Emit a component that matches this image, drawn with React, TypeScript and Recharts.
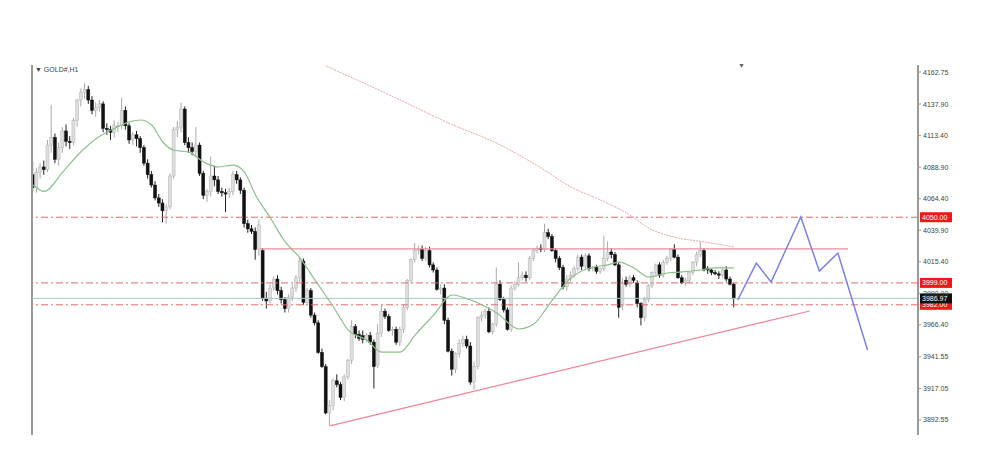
import React from "react";
import { ComposedChart, Bar, Line, XAxis, YAxis, ReferenceLine } from "recharts";

// GOLD#, H1 candles
const opens = [
  4083, 4073, 4085, 4089, 4087, 4106, 4112, 4095, 4104, 4117, 4109, 4108, 4125, 4141, 4147, 4149, 4141, 4133, 4135, 4138,
  4119, 4118, 4116, 4121, 4121, 4133, 4121, 4110, 4114, 4111, 4104, 4092, 4083, 4075, 4065, 4061, 4055, 4058, 4082, 4118,
  4120, 4134, 4108, 4104, 4101, 4106, 4084, 4067, 4070, 4082, 4079, 4070, 4069, 4068, 4070, 4083, 4079, 4071, 4045, 4041,
  4039, 4025, 4024, 3987, 3985, 3995, 4002, 3993, 3986, 3979, 3988, 3995, 4003, 4016, 3984, 3993, 3974, 3968, 3945, 3934,
  3898, 3904, 3923, 3920, 3910, 3926, 3939, 3965, 3959, 3958, 3955, 3958, 3953, 3935, 3960, 3977, 3973, 3962, 3963, 3953,
  3963, 3980, 4001, 4017, 4024, 4025, 4018, 4024, 4013, 4009, 3994, 3995, 3970, 3946, 3932, 3944, 3952, 3955, 3950, 3922,
  3934, 3972, 3974, 3977, 3961, 3967, 3998, 3986, 3978, 3963, 3995, 3998, 4003, 4005, 4003, 4018, 4024, 4026, 4025, 4038,
  4035, 4024, 4018, 4011, 3996, 4002, 4005, 4010, 4019, 4012, 4020, 4010, 4011, 4008, 4010, 4018, 4023, 4021, 4013, 3981,
  4001, 3998, 4003, 3999, 3983, 3972, 3986, 3997, 4007, 4013, 4005, 4015, 4018, 4025, 4019, 4003, 3999, 4001, 4007, 4015,
  4021, 4024, 4010, 4009, 4007, 4006, 4005, 4009, 4002, 3998,
];
const highs = [
  4093, 4088, 4092, 4094, 4110, 4137, 4115, 4108, 4120, 4122, 4113, 4127, 4142, 4150, 4154, 4152, 4144, 4139, 4141, 4140,
  4123, 4121, 4125, 4124, 4143, 4136, 4123, 4116, 4117, 4113, 4106, 4095, 4086, 4078, 4068, 4064, 4060, 4084, 4120, 4125,
  4139, 4136, 4112, 4108, 4120, 4108, 4086, 4072, 4097, 4090, 4082, 4073, 4072, 4073, 4086, 4086, 4081, 4073, 4048, 4044,
  4042, 4048, 4026, 3992, 3998, 4004, 4005, 3996, 3988, 3990, 3998, 4005, 4019, 4018, 3995, 3995, 3976, 3970, 3948, 3936,
  3908, 3925, 3928, 3922, 3928, 3940, 3970, 3967, 3962, 3962, 3960, 3961, 3955, 3967, 3982, 3979, 3975, 3965, 3965, 3965,
  3982, 4002, 4018, 4030, 4028, 4028, 4027, 4027, 4015, 4011, 3998, 3998, 3972, 3948, 3945, 3955, 3958, 3958, 3953, 3938,
  3973, 3977, 3979, 3980, 3968, 4011, 4001, 3988, 3980, 3997, 4000, 4015, 4008, 4008, 4020, 4026, 4028, 4029, 4045, 4041,
  4037, 4026, 4020, 4013, 4005, 4008, 4012, 4021, 4021, 4022, 4022, 4012, 4013, 4011, 4036, 4031, 4026, 4023, 4015, 4003,
  4004, 4005, 4005, 4001, 3984, 3988, 3998, 4008, 4014, 4015, 4017, 4020, 4026, 4029, 4021, 4005, 4003, 4008, 4016, 4023,
  4031, 4026, 4012, 4010, 4009, 4008, 4011, 4012, 4004, 3999,
];
const lows = [
  4070, 4069, 4080, 4083, 4085, 4100, 4092, 4090, 4100, 4105, 4103, 4106, 4120, 4136, 4142, 4138, 4130, 4128, 4132, 4116,
  4114, 4110, 4112, 4116, 4118, 4118, 4107, 4106, 4105, 4100, 4090, 4080, 4073, 4063, 4058, 4046, 4045, 4056, 4080, 4112,
  4116, 4106, 4100, 4098, 4097, 4082, 4064, 4062, 4066, 4074, 4068, 4066, 4054, 4065, 4067, 4076, 4068, 4042, 4038, 4037,
  4017, 4020, 3985, 3979, 3983, 3993, 3990, 3983, 3976, 3976, 3985, 3992, 4000, 3982, 3982, 3972, 3966, 3944, 3933, 3897,
  3888, 3900, 3918, 3908, 3907, 3924, 3936, 3956, 3954, 3952, 3953, 3951, 3917, 3933, 3957, 3971, 3961, 3958, 3951, 3950,
  3960, 3978, 3999, 4015, 4021, 4016, 4016, 4011, 4007, 3993, 3990, 3967, 3945, 3927, 3929, 3941, 3949, 3948, 3920, 3916,
  3932, 3969, 3971, 3960, 3959, 3965, 3985, 3976, 3962, 3961, 3993, 3996, 4001, 4000, 4001, 4016, 4022, 4023, 4023, 4033,
  4023, 4015, 4009, 3994, 3993, 4000, 4003, 4008, 4009, 4010, 4008, 4008, 4006, 4006, 4008, 4016, 4018, 4012, 3972, 3978,
  3996, 3996, 3999, 3980, 3966, 3969, 3984, 3995, 4005, 4003, 4003, 4013, 4016, 4018, 4002, 3998, 3997, 3999, 4005, 4012,
  4019, 4008, 4006, 4005, 4005, 4002, 4003, 4000, 3997, 3980,
];
const closes = [
  4073, 4085, 4089, 4087, 4106, 4112, 4095, 4104, 4117, 4109, 4108, 4125, 4141, 4147, 4149, 4141, 4133, 4135, 4138, 4119,
  4118, 4116, 4121, 4121, 4133, 4121, 4110, 4114, 4111, 4104, 4092, 4083, 4075, 4065, 4061, 4055, 4058, 4082, 4118, 4120,
  4134, 4108, 4104, 4101, 4106, 4084, 4067, 4070, 4082, 4079, 4070, 4069, 4068, 4070, 4083, 4079, 4071, 4045, 4041, 4039,
  4025, 4044, 3987, 3985, 3995, 4002, 3993, 3986, 3979, 3988, 3995, 4003, 4016, 3984, 3993, 3974, 3968, 3945, 3934, 3898,
  3904, 3923, 3920, 3910, 3926, 3939, 3965, 3959, 3956, 3955, 3958, 3953, 3934, 3960, 3977, 3973, 3962, 3963, 3953, 3963,
  3980, 4001, 4017, 4024, 4025, 4018, 4024, 4013, 4009, 3994, 3995, 3970, 3946, 3932, 3944, 3952, 3955, 3950, 3922, 3934,
  3972, 3974, 3977, 3961, 3967, 3998, 3986, 3978, 3963, 3995, 3998, 4003, 4005, 4003, 4018, 4024, 4026, 4025, 4038, 4035,
  4024, 4018, 4011, 3996, 4002, 4005, 4010, 4019, 4012, 4020, 4010, 4011, 4008, 4010, 4018, 4023, 4021, 4013, 3980, 3999,
  3998, 4003, 4001, 3983, 3972, 3986, 3997, 4007, 4013, 4005, 4015, 4018, 4025, 4019, 4003, 3999, 4001, 4007, 4015, 4021,
  4024, 4009, 4009, 4007, 4006, 4005, 4009, 4002, 3998, 3986.97,
];

// moving averages, sampled at candle index
const greenIdx = [0, 3, 8, 13, 17, 22, 26, 29, 32, 35, 38, 42, 46, 50, 54, 57, 60, 64, 68, 72, 76, 81, 85, 90, 94, 99, 103, 108, 113, 118, 125, 131, 135, 140, 145, 150, 155, 158, 162, 166, 171, 175, 180, 184, 189];
const greenVal = [4075, 4070, 4085, 4101, 4111, 4119, 4124, 4125.5, 4121.6, 4108.4, 4102, 4100.6, 4092.9, 4089, 4090.5, 4085, 4067.3, 4049.4, 4030.8, 4018.3, 4001.3, 3980.3, 3962.4, 3954.6, 3945.3, 3945.3, 3958.5, 3974, 3989.6, 3985.7, 3975.7, 3963.2, 3967, 3985.7, 4002.8, 4010.6, 4013, 4015.2, 4010.6, 4003.6, 4006.7, 4007.5, 4009, 4010.6, 4010.6];
const redIdx = [79, 88, 99, 112, 126, 137, 145, 153, 160, 167, 174, 181, 189];
const redVal = [4167.4, 4155.7, 4141, 4123.2, 4106.1, 4088.2, 4073.5, 4063.4, 4053.3, 4040.1, 4033.9, 4030.8, 4026.9];

// projected path
const projIdx = [190, 195, 199, 207, 212, 217, 225];
const projVal = [3985.7, 4014.4, 3999.7, 4050.2, 4008.2, 4022.2, 3946.9];

const priceTicks = [4162.75, 4137.9, 4113.4, 4088.9, 4064.4, 4039.9, 4015.4, 3990.9, 3966.4, 3941.55, 3917.05, 3892.55];
const levels = [4050, 3999, 3982];
const lastPrice = 3986.97;
const rangeTop = 4025.4;
const rangeFrom = 61.2;
const rangeTo = 219.7;
const trendStart = { i: 80, p: 3888 };
const trendEnd = { i: 209.4, p: 3977.2 };
const xMin = -0.27;
const xMax = 238.6;

const rows: any[] = [];
for (let i = 0; i <= 238; i++) {
  const row: any = { i };
  if (i < closes.length) {
    row.range = [lows[i], highs[i]];
    row.o = opens[i];
    row.h = highs[i];
    row.l = lows[i];
    row.c = closes[i];
  }
  const g = greenIdx.indexOf(i);
  if (g >= 0) row.green = greenVal[g];
  const r = redIdx.indexOf(i);
  if (r >= 0) row.red = redVal[r];
  const p = projIdx.indexOf(i);
  if (p >= 0) row.proj = projVal[p];
  rows.push(row);
}

function Candle(props: any) {
  const { x, y, width, height, payload } = props;
  if (!payload || payload.o == null) return null;
  const top = Math.min(y, y + height);
  const bottom = Math.max(y, y + height);
  const span = payload.h - payload.l || 1;
  const py = (v: number) => top + ((payload.h - v) / span) * (bottom - top);
  const up = payload.c >= payload.o;
  const cx = x + width / 2;
  const bTop = py(Math.max(payload.o, payload.c));
  const bBot = py(Math.min(payload.o, payload.c));
  return (
    <g>
      <line x1={cx} x2={cx} y1={top} y2={bottom} stroke={up ? "#a9a9a9" : "#222"} strokeWidth={1} />
      <rect
        x={x}
        y={bTop}
        width={width}
        height={Math.max(1, bBot - bTop)}
        fill={up ? "#dedede" : "#111"}
        stroke={up ? "#b3b3b3" : "#111"}
        strokeWidth={0.5}
      />
    </g>
  );
}

function PriceTag(props: any) {
  const { viewBox, text, bg } = props;
  if (!viewBox) return null;
  const x = viewBox.x + viewBox.width + 2;
  return (
    <g>
      <rect x={x} y={viewBox.y - 5} width={32} height={10} fill={bg} />
      <text x={x + 2} y={viewBox.y + 2.5} fontSize={7} fill="#fff" fontFamily="Liberation Sans, Arial, sans-serif">
        {text}
      </text>
    </g>
  );
}

export default function App() {
  return (
    <div
      style={{
        position: "absolute",
        left: 0,
        top: 0,
        width: 1000,
        height: 471,
        background: "#fff",
        fontFamily: "Liberation Sans, Arial, sans-serif",
      }}
    >
      <ComposedChart width={1000} height={471} data={rows} margin={{ top: 65, right: 0, bottom: 36, left: 32 }}>
        <XAxis type="number" dataKey="i" domain={[xMin, xMax]} hide allowDataOverflow />
        <YAxis
          orientation="right"
          width={82}
          domain={[3880.9, 4168.2]}
          ticks={priceTicks}
          interval={0}
          allowDataOverflow
          tickFormatter={(v: number) => v.toFixed(2)}
          axisLine={{ stroke: "#9a9a9a", strokeWidth: 2 }}
          tickLine={{ stroke: "#9a9a9a" }}
          tickSize={3}
          tick={{ fontSize: 7, fill: "#444", fontFamily: "Liberation Sans, Arial, sans-serif" }}
        />
        <ReferenceLine x={xMin} stroke="#9a9a9a" strokeWidth={2} />

        {levels.map((lv) => (
          <ReferenceLine
            key={lv}
            y={lv}
            stroke="#e46a6a"
            strokeWidth={1}
            strokeDasharray="7 3 2 3"
            label={<PriceTag text={lv.toFixed(2)} bg="#f01818" />}
          />
        ))}
        <ReferenceLine
          y={lastPrice}
          stroke="#a7c7c7"
          strokeWidth={1}
          label={<PriceTag text={lastPrice.toFixed(2)} bg="#111" />}
        />
        <ReferenceLine
          segment={[
            { x: rangeFrom, y: rangeTop },
            { x: rangeTo, y: rangeTop },
          ]}
          stroke="#ef8b9c"
          strokeWidth={1.3}
        />
        <ReferenceLine
          segment={[
            { x: trendStart.i, y: trendStart.p },
            { x: trendEnd.i, y: trendEnd.p },
          ]}
          stroke="#ee8595"
          strokeWidth={1.2}
        />

        <Line
          dataKey="red"
          stroke="#f2a3a3"
          strokeWidth={1}
          strokeDasharray="2 1"
          dot={false}
          type="monotone"
          connectNulls
          isAnimationActive={false}
        />
        <Bar dataKey="range" barSize={3} shape={<Candle />} isAnimationActive={false} />
        <Line
          dataKey="green"
          stroke="#8cc08c"
          strokeWidth={1.2}
          dot={false}
          type="monotone"
          connectNulls
          isAnimationActive={false}
        />
        <Line
          dataKey="proj"
          stroke="#7d80e4"
          strokeWidth={1.5}
          dot={false}
          type="linear"
          connectNulls
          isAnimationActive={false}
        />
      </ComposedChart>
      <div style={{ position: "absolute", left: 35, top: 66, fontSize: 7, color: "#444" }}>▼ GOLD#,H1</div>
      <div style={{ position: "absolute", left: 738, top: 62, fontSize: 7, color: "#666" }}>▼</div>
    </div>
  );
}
